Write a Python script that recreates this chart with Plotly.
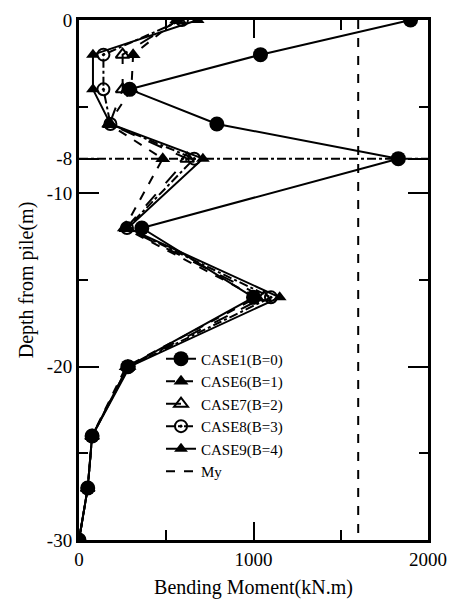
import plotly.graph_objects as go

depth = [0, -2, -4, -6, -8, -12, -16, -20, -24, -27, -30]
case1 = [1900, 1040, 290, 790, 1830, 360, 1000, 280, 75, 50, 0]
case6 = [560, 310, 300, 170, 480, 260, 1020, 270, 75, 50, 0]
case7 = [570, 250, 250, 175, 620, 270, 1060, 280, 75, 50, 0]
case8 = [590, 140, 140, 180, 660, 275, 1100, 285, 75, 50, 0]
case9 = [680, 80, 80, 180, 710, 280, 1150, 290, 75, 50, 0]
my_value = [1600, 1600]
my_depth = [0, -30]
ref_depth = [-8, -8]
ref_x = [0, 2000]

x_ticks = [0, 1000, 2000]
x_minor = [500, 1500]
y_ticks = [0, -8, -10, -20, -30]
y_ticktext = ["0", "-8", "-10", "-20", "-30"]
y_minor = [-5, -15, -25]

FONT = "Liberation Serif"
fig = go.Figure()

fig.add_trace(go.Scatter(x=ref_x, y=ref_depth, mode="lines",
                         line=dict(color="black", width=2, dash="dashdot"),
                         showlegend=False, hoverinfo="skip"))

series = [
    ("CASE1(B=0)", case1, "solid", dict(symbol="circle", size=15, color="black")),
    ("CASE6(B=1)", case6, "dash", dict(symbol="triangle-up", size=13, color="black")),
    ("CASE7(B=2)", case7, "longdash", dict(symbol="triangle-up-open", size=12, color="black", line=dict(width=2, color="black"))),
    ("CASE8(B=3)", case8, "dashdot", dict(symbol="circle-open-dot", size=12, color="black", line=dict(width=2, color="black"))),
    ("CASE9(B=4)", case9, "solid", dict(symbol="triangle-up", size=12, color="black")),
]
for name, vals, dash, mk in series:
    fig.add_trace(go.Scatter(x=vals, y=depth, mode="lines+markers", name=name,
                             line=dict(color="black", width=2, dash=dash),
                             marker=mk))

fig.add_trace(go.Scatter(x=my_value, y=my_depth, mode="lines", name="My",
                         line=dict(color="black", width=2, dash="dash")))

fig.update_layout(
    width=450, height=602,
    margin=dict(l=79, r=22, t=20, b=62),
    paper_bgcolor="white", plot_bgcolor="white",
    font=dict(family=FONT, size=19, color="black"),
    showlegend=True,
    legend=dict(x=0.235, y=0.38, xanchor="left", yanchor="top",
                bgcolor="rgba(0,0,0,0)", font=dict(family=FONT, size=15),
                tracegroupgap=0),
)
fig.update_xaxes(
    range=[0, 2000], tickvals=x_ticks, ticks="inside", ticklen=18, tickwidth=2,
    tickcolor="black", automargin=False,
    minor=dict(tickvals=x_minor, ticks="inside", ticklen=10, tickwidth=2, tickcolor="black"),
    showline=True, linewidth=3, linecolor="black", mirror="ticks",
    showgrid=False, zeroline=False,
    title=dict(text="Bending Moment(kN.m)", font=dict(family=FONT, size=20), standoff=12),
    tickfont=dict(family=FONT, size=19),
)
fig.update_yaxes(
    range=[-30, 0], tickvals=y_ticks, ticktext=y_ticktext, ticks="inside", ticklen=20,
    tickwidth=2, tickcolor="black", automargin=False,
    minor=dict(tickvals=y_minor, ticks="inside", ticklen=9, tickwidth=2, tickcolor="black"),
    showline=True, linewidth=3, linecolor="black", mirror="ticks",
    showgrid=False, zeroline=False,
    title=dict(text="Depth from pile(m)", font=dict(family=FONT, size=20), standoff=8),
    tickfont=dict(family=FONT, size=19),
)

fig.write_html("out.html")
